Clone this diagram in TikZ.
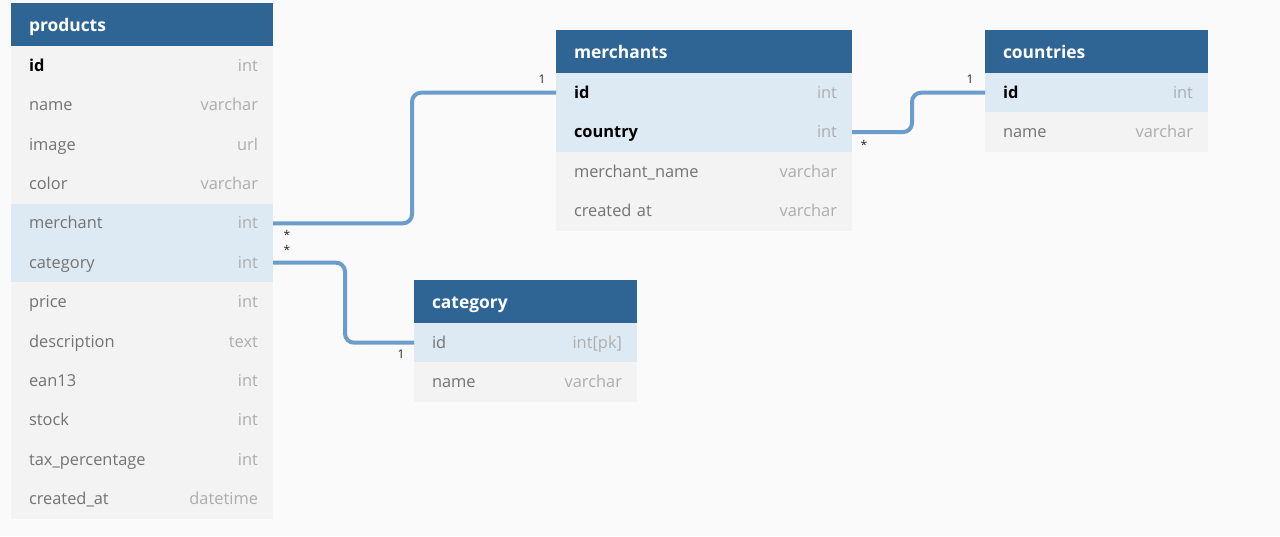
\documentclass[tikz,border=0pt]{standalone}
\usepackage{fontspec}
\setmainfont{Open Sans}
\usetikzlibrary{positioning}

\definecolor{headblue}{HTML}{2F6595}
\definecolor{keyrow}{HTML}{DEEAF3}
\definecolor{plainrow}{HTML}{F3F3F3}
\definecolor{linkblue}{HTML}{6A9DCB}
\definecolor{namegray}{HTML}{737373}
\definecolor{typegray}{HTML}{ADADAD}
\definecolor{paper}{HTML}{FAFAFA}

\newcommand{\coltype}[1]{\hfill\textcolor{typegray}{#1}\kern-1.5pt}
\newcommand{\keyname}[1]{\textcolor{black}{\bfseries #1}}

\tikzset{
  head/.style={fill=headblue, text=white, anchor=north west, align=left,
    font=\fontsize{8.7}{10}\selectfont\bfseries, outer sep=0pt,
    minimum height=21.5pt, inner xsep=9pt, inner ysep=0pt,
    text height=7.5pt, text depth=1pt},
  row/.style={fill=plainrow, text=namegray, align=left,
    font=\fontsize{8.2}{10}\selectfont, outer sep=0pt,
    minimum height=19.7pt, inner xsep=9pt, inner ysep=0pt,
    text height=6.8pt, text depth=1.2pt, below=0pt of #1},
  fk/.style={fill=keyrow},
  pcol/.style={text width=113pt},
  mcol/.style={text width=130pt},
  scol/.style={text width=93.5pt},
  link/.style={linkblue, line width=2pt, rounded corners=4.5pt},
  mult/.style={font=\fontsize{6}{7}\selectfont, text=black!85, inner sep=0pt}
}

\begin{document}
\begin{tikzpicture}
\fill[paper] (0,0) rectangle (640pt,-268pt);
\useasboundingbox (0,0) rectangle (640pt,-268pt);

% products
\node[head, pcol] (products) at (5.5pt,-1.5pt) {products};
\node[row=products, pcol] (p-id) {\keyname{id}\coltype{int}};
\node[row=p-id, pcol] (p-name) {name\coltype{varchar}};
\node[row=p-name, pcol] (p-image) {image\coltype{url}};
\node[row=p-image, pcol] (p-color) {color\coltype{varchar}};
\node[row=p-color, pcol, fk] (p-merchant) {merchant\coltype{int}};
\node[row=p-merchant, pcol, fk] (p-category) {category\coltype{int}};
\node[row=p-category, pcol] (p-price) {price\coltype{int}};
\node[row=p-price, pcol] (p-description) {description\coltype{text}};
\node[row=p-description, pcol] (p-ean) {ean13\coltype{int}};
\node[row=p-ean, pcol] (p-stock) {stock\coltype{int}};
\node[row=p-stock, pcol] (p-tax) {tax\_percentage\coltype{int}};
\node[row=p-tax, pcol] (p-created) {created\_at\coltype{datetime}};

% merchants
\node[head, mcol] (merchants) at (278pt,-15pt) {merchants};
\node[row=merchants, mcol, fk] (m-id) {\keyname{id}\coltype{int}};
\node[row=m-id, mcol, fk] (m-country) {\keyname{country}\coltype{int}};
\node[row=m-country, mcol] (m-name) {merchant\_name\coltype{varchar}};
\node[row=m-name, mcol] (m-created) {created at\coltype{varchar}};

% countries
\node[head, scol] (countries) at (492.5pt,-15pt) {countries};
\node[row=countries, scol, fk] (co-id) {\keyname{id}\coltype{int}};
\node[row=co-id, scol] (co-name) {name\coltype{varchar}};

% category
\node[head, scol] (category) at (207pt,-140pt) {category};
\node[row=category, scol, fk] (c-id) {id\coltype{int[pk]}};
\node[row=c-id, scol] (c-name) {name\coltype{varchar}};

% relations
\draw[link] (p-merchant.east) -- ++(69.5pt,0) |- (m-id.west);
\draw[link] (p-category.east) -- ++(36pt,0) |- (c-id.west);
\draw[link] (m-country.east) -- ++(30pt,0) |- (co-id.west);

\node[mult] (pm-many) at ([shift={(7pt,-6pt)}]p-merchant.east) {*};
\node[mult] (pc-many) at ([shift={(7pt,6.5pt)}]p-category.east) {*};
\node[mult] (m-one) at ([shift={(-7pt,6.5pt)}]m-id.west) {1};
\node[mult] (c-one) at ([shift={(-6.5pt,-6pt)}]c-id.west) {1};
\node[mult] (mc-many) at ([shift={(6pt,-6.5pt)}]m-country.east) {*};
\node[mult] (co-one) at ([shift={(-7.5pt,6.5pt)}]co-id.west) {1};
\end{tikzpicture}
\end{document}
